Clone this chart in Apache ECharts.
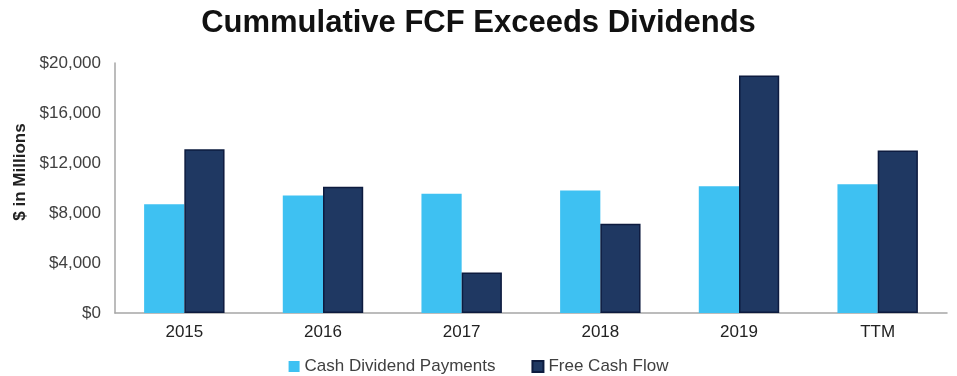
<!DOCTYPE html>
<html>
<head>
<meta charset="utf-8">
<script src="https://cdn.jsdelivr.net/npm/echarts@6/dist/echarts.min.js"></script>
<style>
  html, body { margin: 0; padding: 0; background: #fff; }
  #chart { width: 957px; height: 376px; }
</style>
</head>
<body>
<div id="chart"></div>
<script>
let categories = ['2015', '2016', '2017', '2018', '2019', 'TTM'];
let dividends = [8700, 9400, 9550, 9800, 10150, 10300];
let fcf = [13100, 10100, 3250, 7150, 19000, 13000];
let yTicks = [0, 4000, 8000, 12000, 16000, 20000];

let font = 'Liberation Sans, Arial, sans-serif';
let myChart = echarts.init(document.getElementById('chart'));

let option = {
  animation: false,
  title: {
    text: 'Cummulative FCF Exceeds Dividends',
    left: 'center',
    top: 3,
    textStyle: {
      fontFamily: font,
      fontSize: 31,
      fontWeight: 'bold',
      color: '#111'
    }
  },
  // y axis title sits a bit above the middle of the axis
  graphic: [{
    type: 'text',
    x: 20,
    y: 172,
    rotation: Math.PI / 2,
    style: {
      text: '$ in Millions',
      font: 'bold 17px ' + font,
      fill: '#222',
      align: 'center',
      verticalAlign: 'middle'
    }
  }],
  legend: {
    bottom: -4,
    left: 'center',
    itemWidth: 11,
    itemHeight: 11,
    itemGap: 36,
    icon: 'rect',
    textStyle: {
      fontFamily: font,
      fontSize: 17,
      color: '#404040'
    },
    data: ['Cash Dividend Payments', 'Free Cash Flow']
  },
  grid: {
    left: 115,
    right: 10,
    top: 63,
    bottom: 63
  },
  xAxis: {
    type: 'category',
    data: categories,
    axisLine: { lineStyle: { color: '#a6a6a6', width: 1.5 } },
    axisTick: { show: false },
    axisLabel: {
      margin: 11,
      fontFamily: font,
      fontSize: 17,
      color: '#222'
    }
  },
  yAxis: {
    type: 'value',
    min: yTicks[0],
    max: yTicks[yTicks.length - 1],
    interval: 4000,
    axisLine: { show: true, lineStyle: { color: '#a6a6a6', width: 1.5 } },
    axisTick: { show: false },
    splitLine: { show: false },
    axisLabel: {
      margin: 14,
      fontFamily: font,
      fontSize: 17,
      color: '#404040',
      formatter: function (v) {
        return '$' + v.toLocaleString('en-US');
      }
    }
  },
  series: [
    {
      name: 'Cash Dividend Payments',
      type: 'bar',
      data: dividends,
      barGap: '0%',
      barCategoryGap: '42%',
      itemStyle: { color: '#3ec1f2' }
    },
    {
      name: 'Free Cash Flow',
      type: 'bar',
      data: fcf,
      barGap: '0%',
      barCategoryGap: '42%',
      itemStyle: { color: '#1f3862', borderColor: '#0d1b3f', borderWidth: 1.5 }
    }
  ]
};

myChart.setOption(option);
</script>
</body>
</html>
